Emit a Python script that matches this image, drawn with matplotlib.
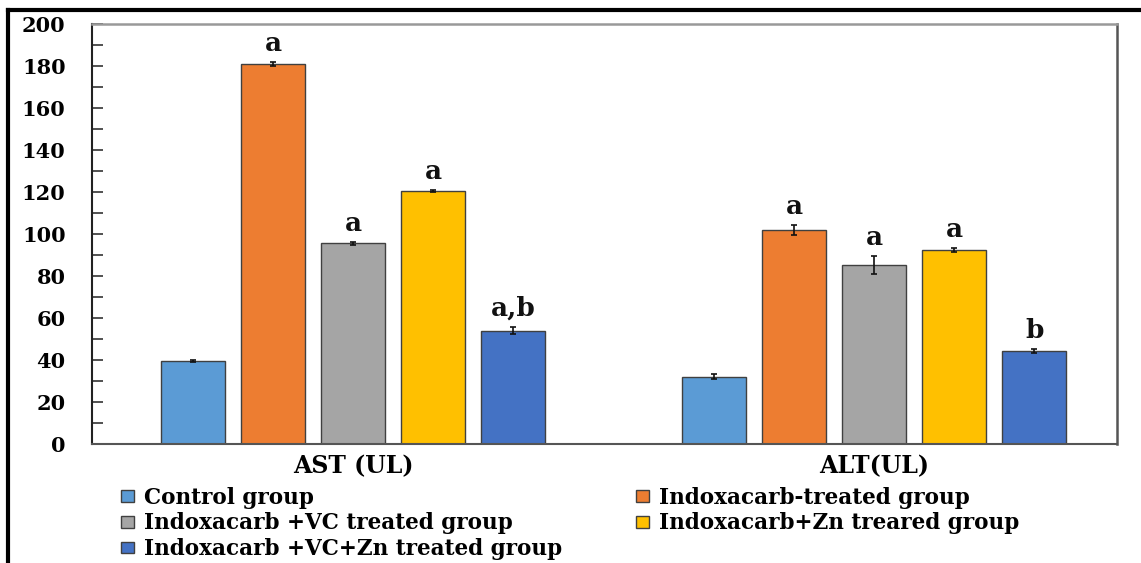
import matplotlib
matplotlib.use("Agg")
import matplotlib.pyplot as plt
import numpy as np
from matplotlib.lines import Line2D
from matplotlib.ticker import MultipleLocator

categories = ["AST (UL)", "ALT(UL)"]
groups = ["Control group", "Indoxacarb-treated group", "Indoxacarb +VC treated group",
          "Indoxacarb+Zn treared group", "Indoxacarb +VC+Zn treated group"]
colors = ["#5B9BD5", "#ED7D31", "#A5A5A5", "#FFC000", "#4472C4"]
values = {
    "Control group": [39.5, 32.0],
    "Indoxacarb-treated group": [181.0, 102.0],
    "Indoxacarb +VC treated group": [95.5, 85.3],
    "Indoxacarb+Zn treared group": [120.5, 92.3],
    "Indoxacarb +VC+Zn treated group": [54.0, 44.3],
}
errors = {
    "Control group": [0.5, 1.2],
    "Indoxacarb-treated group": [0.8, 2.3],
    "Indoxacarb +VC treated group": [0.5, 4.3],
    "Indoxacarb+Zn treared group": [0.5, 1.0],
    "Indoxacarb +VC+Zn treated group": [1.6, 0.8],
}
letters = {
    "Control group": ["", ""],
    "Indoxacarb-treated group": ["a", "a"],
    "Indoxacarb +VC treated group": ["a", "a"],
    "Indoxacarb+Zn treared group": ["a", "a"],
    "Indoxacarb +VC+Zn treated group": ["a,b", "b"],
}
y_ticks = [0, 20, 40, 60, 80, 100, 120, 140, 160, 180, 200]

FONT = "DejaVu Serif"
fig = plt.figure(figsize=(11.41, 5.63), dpi=100)
W, H = 1141, 563
ax = fig.add_axes([92 / W, 1 - 444 / H, (1117 - 92) / W, (444 - 24) / H])

x = np.arange(len(categories))
bw = 0.123
step = 0.1536
for i, g in enumerate(groups):
    xs = x + (i - 2) * step
    ax.bar(xs, values[g], width=bw, color=colors[i], edgecolor="#404040",
           linewidth=1.0, label=g, zorder=2)
    ax.errorbar(xs, values[g], yerr=errors[g], fmt="none", ecolor="#111111",
                elinewidth=1.2, capsize=2.5, capthick=1.2, zorder=3)
    for xi, v, e, t in zip(xs, values[g], errors[g], letters[g]):
        if t:
            ax.text(xi, v + e + 3, t, ha="center", va="bottom", fontsize=19,
                    fontweight="bold", family=FONT, color="#111111")

ax.set_xlim(-0.501, 1.466)
ax.set_ylim(0, 200)
ax.set_yticks(y_ticks)
ax.set_yticklabels([str(t) for t in y_ticks], fontsize=15, fontweight="bold", family=FONT)
ax.yaxis.set_minor_locator(MultipleLocator(10))
ax.tick_params(axis="y", which="both", direction="in", length=8, width=1.2,
               color="#333333", pad=19)
ax.set_xticks(x)
ax.set_xticklabels(categories, fontsize=17, fontweight="bold", family=FONT)
ax.tick_params(axis="x", length=0, pad=7)

ax.spines["left"].set_color("#222222")
ax.spines["left"].set_linewidth(1.5)
ax.spines["bottom"].set_color("#555555")
ax.spines["bottom"].set_linewidth(1.5)
ax.spines["right"].set_color("#555555")
ax.spines["right"].set_linewidth(1.8)
ax.spines["top"].set_color("#999999")
ax.spines["top"].set_linewidth(1.8)

handles, labels = ax.get_legend_handles_labels()
order = [0, 2, 4, 1, 3]
leg = fig.legend([handles[k] for k in order], [labels[k] for k in order],
                 ncol=2, loc="upper left", bbox_to_anchor=(110 / W, 1 - 476 / H),
                 frameon=False, prop={"family": FONT, "weight": "bold", "size": 15.5},
                 handlelength=0.6, handleheight=0.45, handletextpad=0.5,
                 columnspacing=3.4, labelspacing=0.17, borderpad=0)

fig.add_artist(Line2D([8 / W, 1], [1 - 10 / H, 1 - 10 / H], transform=fig.transFigure,
                      color="black", linewidth=3))
fig.add_artist(Line2D([8 / W, 8 / W], [0, 1 - 10 / H], transform=fig.transFigure,
                      color="black", linewidth=3))

fig.savefig("out.png", dpi=100)
